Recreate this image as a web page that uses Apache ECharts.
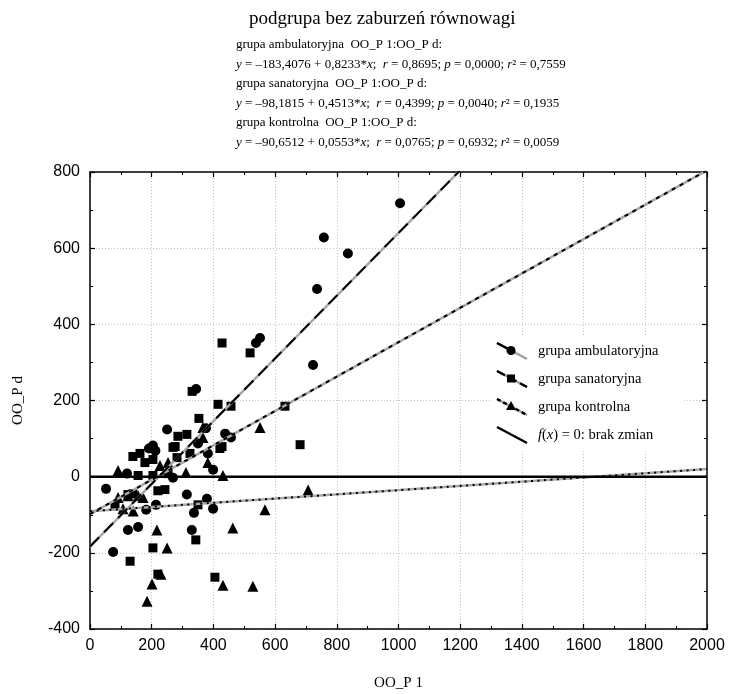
<!DOCTYPE html>
<html><head><meta charset="utf-8">
<script src="https://cdn.jsdelivr.net/npm/echarts@6/dist/echarts.min.js"></script>
<style>html,body{margin:0;padding:0;background:#fff}#c{width:732px;height:694px}</style>
</head><body><div id="c"></div>
<script>
// ---- data ----
const groupNames = ['grupa ambulatoryjna', 'grupa sanatoryjna', 'grupa kontrolna'];
const zeroName = 'f(x) = 0: brak zmian';
const titleText = 'podgrupa bez zaburzeń równowagi';
const xName = 'OO_P 1';
const yName = 'OO_P d';

const ambX = [1005, 758, 836, 736, 723, 551, 538, 344, 376, 250, 438, 457, 204, 191, 212, 350, 382, 399, 120, 52, 75, 123, 156, 182, 214, 314, 330, 337, 379, 399, 269];
const ambY = [718, 628, 586, 493, 293, 364, 351, 230, 127, 124, 113, 103, 82, 74, 68, 87, 61, 18, 8, -32, -198, -140, -132, -87, -74, -47, -140, -95, -58, -84, -3];

const sanX = [428, 519, 331, 415, 457, 353, 285, 314, 276, 428, 421, 139, 162, 324, 632, 681, 178, 204, 282, 156, 253, 204, 139, 220, 243, 81, 123, 343, 350, 130, 204, 220, 405, 269];
const sanY = [351, 325, 224, 190, 185, 153, 106, 111, 79, 79, 74, 53, 61, 61, 185, 84, 37, 45, 50, 3, 8, 3, -45, -37, -34, -77, -47, -166, -74, -222, -187, -256, -264, 77];

const konX = [551, 366, 366, 382, 311, 431, 227, 253, 91, 91, 123, 156, 172, 140, 107, 217, 250, 230, 201, 185, 431, 528, 463, 567, 707];
const konY = [129, 129, 103, 37, 11, 3, 29, 37, 16, -55, -50, -50, -55, -90, -84, -140, -187, -256, -282, -327, -285, -288, -135, -87, -35];

const intercepts = [-183.4076, -98.1815, -90.6512];
const slopes = [0.8233, 0.4513, 0.0553];
const rVals = [0.8695, 0.4399, 0.0765];
const pVals = [0.0000, 0.0040, 0.6932];
const r2Vals = [0.7559, 0.1935, 0.0059];

const xRange = [0, 2000];
const yRange = [-400, 800];
const tickStep = 200;

// ---- helpers ----
const fmt = v => v.toFixed(4).replace('.', ',');
const fmtS = v => (v < 0 ? '–' + fmt(-v) : fmt(v));
function zip(a, b) { return a.map((v, i) => [v, b[i]]); }
const scatterData = [zip(ambX, ambY), zip(sanX, sanY), zip(konX, konY)];
const symbols = ['circle', 'rect', 'triangle'];
const symSizes = [10, 9, 11];
const dashTypes = [[13, 7], [4, 5], [2, 4.5]];

const lines = [];
groupNames.forEach((g, i) => {
  lines.push(g + '  OO_P 1:OO_P d:');
  lines.push('{i|y} = ' + fmtS(intercepts[i]) + ' + ' + fmt(slopes[i]) + '*{i|x};  {i|r} = ' + fmt(rVals[i]) +
    '; {i|p} = ' + fmt(pVals[i]) + '; {i|r}² = ' + fmt(r2Vals[i]));
});

function svgIcon(inner) {
  const s = '<svg xmlns="http://www.w3.org/2000/svg" width="32" height="20" viewBox="0 0 32 20">' + inner + '</svg>';
  return 'image://data:image/svg+xml;charset=utf-8,' + encodeURIComponent(s);
}
const icons = [
  svgIcon('<line x1="1" y1="2" x2="31" y2="18" stroke="#a0a0a0" stroke-width="2.5"/><line x1="1" y1="2" x2="19" y2="11.6" stroke="#000" stroke-width="2.5"/><circle cx="15" cy="9.5" r="4.5" fill="#000"/>'),
  svgIcon('<line x1="1" y1="2" x2="31" y2="18" stroke="#a0a0a0" stroke-width="2.5"/><line x1="1" y1="2" x2="31" y2="18" stroke="#000" stroke-width="2.5" stroke-dasharray="9 4"/><rect x="11" y="5.5" width="8" height="8" fill="#000"/>'),
  svgIcon('<line x1="1" y1="2" x2="31" y2="18" stroke="#a0a0a0" stroke-width="2.5"/><line x1="1" y1="2" x2="31" y2="18" stroke="#000" stroke-width="2.5" stroke-dasharray="4 3"/><path d="M15 4 L20 13 L10 13 Z" fill="#000"/>'),
  svgIcon('<line x1="1" y1="2" x2="31" y2="18" stroke="#000" stroke-width="2.5"/>')
];

const serif = '"Liberation Serif", "Times New Roman", serif';
const sans = '"Liberation Sans", Arial, sans-serif';

const series = [];
groupNames.forEach((g, i) => {
  const d = [[xRange[0], intercepts[i] + slopes[i] * xRange[0]], [xRange[1], intercepts[i] + slopes[i] * xRange[1]]];
  series.push({ name: g, type: 'line', data: d, symbol: 'none', silent: true, z: 3,
    lineStyle: { color: '#a8a8a8', width: 2.5, type: 'solid' } });
  series.push({ name: g, type: 'line', data: d, symbol: 'none', silent: true, z: 4,
    lineStyle: { color: '#000', width: 2, type: dashTypes[i] } });
});
series.push({ name: zeroName, type: 'line', data: [[xRange[0], 0], [xRange[1], 0]], symbol: 'none', z: 4,
  lineStyle: { color: '#000', width: 2.5 } });
groupNames.forEach((g, i) => {
  series.push({ name: g, type: 'scatter', data: scatterData[i], symbol: symbols[i], symbolSize: symSizes[i], z: 2,
    itemStyle: { color: '#000', opacity: 1 } });
});

const axisCommon = {
  type: 'value', interval: tickStep,
  axisLine: { onZero: false, lineStyle: { color: '#000', width: 1.5 } },
  axisTick: { inside: true, length: 5, lineStyle: { color: '#000', width: 1.2 } },
  minorTick: { show: true, splitNumber: 2, length: 3, lineStyle: { color: '#000', width: 1 } }
};
function ax(extra) { return Object.assign({}, JSON.parse(JSON.stringify(axisCommon)), extra); }
const plainLabel = v => String(v);

const option = {
  animation: false,
  backgroundColor: '#fff',
  title: [
    { text: titleText, left: 244, top: 5, textStyle: { fontFamily: serif, fontSize: 19, fontWeight: 'normal', color: '#000' } },
    { text: lines.join('\n'), left: 231, top: 30,
      textStyle: { fontFamily: serif, fontSize: 13, fontWeight: 'normal', color: '#000', lineHeight: 19.5,
        rich: { i: { fontFamily: serif, fontSize: 13, fontStyle: 'italic', color: '#000', lineHeight: 19.5 } } } }
  ],
  legend: {
    orient: 'vertical', left: 490, top: 337, itemWidth: 32, itemHeight: 20, itemGap: 8,
    backgroundColor: '#fff', padding: [4, 26, 4, 6],
    data: [groupNames[0], groupNames[1], groupNames[2], zeroName].map((n, i) => ({ name: n, icon: icons[i] })),
    formatter: n => n === zeroName ? '{i|f}({i|x}) = 0: brak zmian' : n,
    textStyle: { fontFamily: serif, fontSize: 14.5, color: '#000', padding: [0, 0, 0, 5],
      rich: { i: { fontFamily: serif, fontSize: 14.5, fontStyle: 'italic', color: '#000' } } }
  },
  grid: { left: 90, right: 25, top: 172, bottom: 65, containLabel: false, outerBoundsMode: 'none' },
  xAxis: [
    ax({ min: xRange[0], max: xRange[1], position: 'bottom', name: xName, nameLocation: 'middle', nameGap: 47,
      nameTextStyle: { fontFamily: serif, fontSize: 15, color: '#000' },
      axisLabel: { fontFamily: sans, fontSize: 16, color: '#000', margin: 9, formatter: plainLabel },
      splitLine: { show: true, lineStyle: { color: '#c4c4c4', type: [1, 2], width: 1 } } }),
    ax({ min: xRange[0], max: xRange[1], position: 'top', axisLabel: { show: false }, splitLine: { show: false } })
  ],
  yAxis: [
    ax({ min: yRange[0], max: yRange[1], position: 'left', name: yName, nameLocation: 'middle', nameGap: 64,
      nameTextStyle: { fontFamily: serif, fontSize: 15, color: '#000' },
      axisLabel: { fontFamily: sans, fontSize: 16, color: '#000', margin: 10, formatter: plainLabel },
      splitLine: { show: true, lineStyle: { color: '#c4c4c4', type: [1, 2], width: 1 } } }),
    ax({ min: yRange[0], max: yRange[1], position: 'right', axisLabel: { show: false }, splitLine: { show: false } })
  ],
  series: series
};

const chart = echarts.init(document.getElementById('c'), null, { renderer: 'canvas' });
chart.setOption(option);
</script>
</body></html>
